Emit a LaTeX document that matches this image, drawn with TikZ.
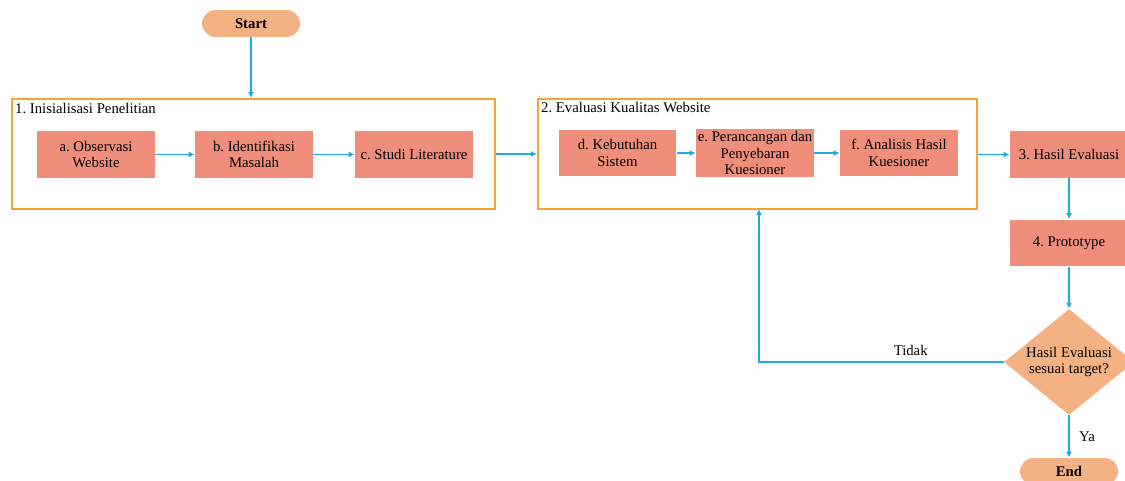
\documentclass[tikz,border=0pt]{standalone}
\usepackage{fontspec}
\setmainfont{Liberation Serif}
\frenchspacing
\usetikzlibrary{shapes.geometric,arrows.meta}

\definecolor{boxred}{RGB}{240,142,124}
\definecolor{peach}{RGB}{244,177,131}
\definecolor{frameorange}{RGB}{242,165,50}
\definecolor{flowblue}{RGB}{30,170,230}

\tikzset{
    alur/.style={draw=flowblue, line width=0.8pt, -{Latex[length=3.5pt,width=3.5pt]}},
    grup/.style={draw=frameorange, line width=1.1pt, fill=white, inner sep=0pt},
    pil/.style={fill=peach, rectangle, rounded corners=0.27cm, minimum width=1.96cm, minimum height=0.54cm, font=\fontsize{8.4}{9.5}\selectfont\bfseries}
}

\begin{document}
\begin{tikzpicture}[x=0.02cm, y=-0.02cm, every node/.append style={font=\fontsize{8.4}{9.5}\selectfont}]
        \useasboundingbox (0,0) rectangle (1125,480);
        \clip (0,0) rectangle (1125,480);

        % Tahapan
        \node[grup, minimum width=9.66cm, minimum height=2.2cm] (G1) at (253.5,154) {};
        \node[grup, minimum width=8.78cm, minimum height=2.2cm] (G2) at (757.5,154) {};
        \draw (G1.north west) +(2,3.5) node[below right, inner sep=1pt] {1. Inisialisasi Penelitian};
        \draw (G2.north west) +(2,2.5) node[below right, inner sep=1pt] {2. Evaluasi Kualitas Website};

        \begin{scope}[every node/.style={fill=boxred, minimum width=2.36cm, minimum height=0.94cm, align=center, inner sep=1pt, font=\fontsize{8.4}{9.5}\selectfont}]
            \node (A) at (96,154.5) {a. Observasi\\Website};
            \node (B) at (254,154.5) {b. Identifikasi\\Masalah};
            \node (C) at (414,154.5) {c. Studi Literature};
            \node (D) at (617.5,153) {d. Kebutuhan\\Sistem};
            \node (E) at (755,153) {e. Perancangan dan\\Penyebaran\\Kuesioner};
            \node (F) at (899,153) {f. Analisis Hasil\\Kuesioner};
            \node (H) at (1069,154.5) {3. Hasil Evaluasi};
            \node (P) at (1069,243) {4. Prototype};
        \end{scope}

        \node[pil] (S) at (251,23.5) {Start};
        \node[pil] (Z) at (1069,471.5) {End};
        \node[diamond, fill=peach, inner sep=0pt, minimum width=2.6cm, minimum height=2.12cm] (T) at (1069,362) {};
        \draw (T) node[align=center] {Hasil Evaluasi\\sesuai target?};
        \coordinate (K) at (759,209);

        % Alur
        \draw[alur] (S) -- (S |- G1.north);
        \draw[alur] (A) -- (B);
        \draw[alur] (B) -- (C);
        \draw[alur] (G1) -- (G2);
        \draw[alur] (D) -- (E);
        \draw[alur] (E) -- (F);
        \draw[alur] (G2.east |- H) -- (H);
        \draw[alur] (H) -- (P);
        \draw[alur] (P) -- (T);
        \draw[alur] (T) -- (Z) node[midway, right, xshift=2pt] {Ya};
        \draw[alur] (T.west) -| (K) node[pos=0.19, above] {Tidak};
    \end{tikzpicture}
\end{document}
